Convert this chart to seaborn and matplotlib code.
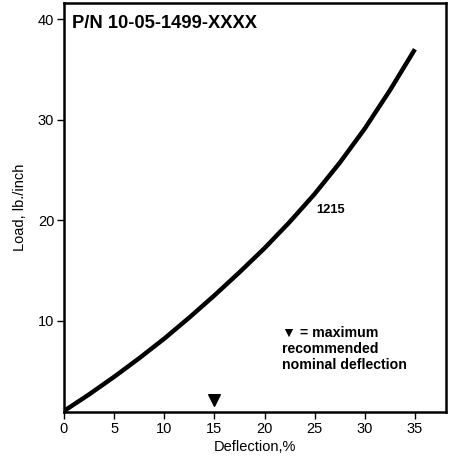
import matplotlib
matplotlib.use("Agg")
import matplotlib.pyplot as plt
import seaborn as sns
import pandas as pd
from matplotlib import font_manager

deflection = [0, 2.5, 5, 7.5, 10, 12.5, 15, 17.5, 20, 22.5, 25, 27.5, 30, 32.5, 35]
load = [1.0, 2.65, 4.4, 6.25, 8.2, 10.3, 12.5, 14.8, 17.2, 19.8, 22.6, 25.7, 29.1, 32.9, 37.0]
x_ticks = [0, 5, 10, 15, 20, 25, 30, 35]
y_ticks = [10, 20, 30, 40]
marker_x = [15]
marker_y = [2.1]
title = "P/N 10-05-1499-XXXX"
curve_label = "1215"
note = "▼ = maximum\nrecommended\nnominal deflection"

sns.set_theme(style="white")
names = {f.name for f in font_manager.fontManager.ttflist}
narrow = "Liberation Sans Narrow" if "Liberation Sans Narrow" in names else "Liberation Sans"
plt.rcParams['font.family'] = [narrow, 'DejaVu Sans']
plt.rcParams['text.color'] = 'black'
plt.rcParams['axes.labelcolor'] = 'black'

fig = plt.figure(figsize=(4.55, 4.57), dpi=100)
ax = fig.add_axes([64/455, 45/457, (446-64)/455, (412-3)/457])

df = pd.DataFrame({"Deflection": deflection, "Load": load})
sns.lineplot(data=df, x="Deflection", y="Load", ax=ax, color="black", linewidth=3.2,
             solid_capstyle="butt", solid_joinstyle="round")
ax.scatter(marker_x, marker_y, marker="v", s=70, color="black", zorder=5)

ax.set_xlim(0, 38.1)
ax.set_ylim(0.9, 41.6)
ax.set_xticks(x_ticks)
ax.set_yticks(y_ticks)
ax.tick_params(axis="both", direction="out", length=5, width=1, color="black",
               labelsize=10.5, labelcolor="black", pad=2, bottom=True, left=True)
for s in ax.spines.values():
    s.set_color("black")
    s.set_linewidth(1.8)
ax.set_xlabel("Deflection,%", fontsize=10.5, color="black", labelpad=3)
ax.set_ylabel("Load, lb./inch", fontsize=10.5, color="black", labelpad=8)

bold = ["Liberation Sans", "DejaVu Sans"]
ax.text(0.8, 39.6, title, fontsize=13.2, fontweight="bold", family=bold, va="center", ha="left", color="black")
ax.text(25.2, 21.0, curve_label, fontsize=9.3, fontweight="bold", family=bold, va="center", ha="left", color="black")
ax.text(21.7, 9.5, note, fontsize=10.2, fontweight="bold", family=bold, va="top", ha="left",
        linespacing=1.2, color="black")

fig.savefig("out.png", dpi=100)
